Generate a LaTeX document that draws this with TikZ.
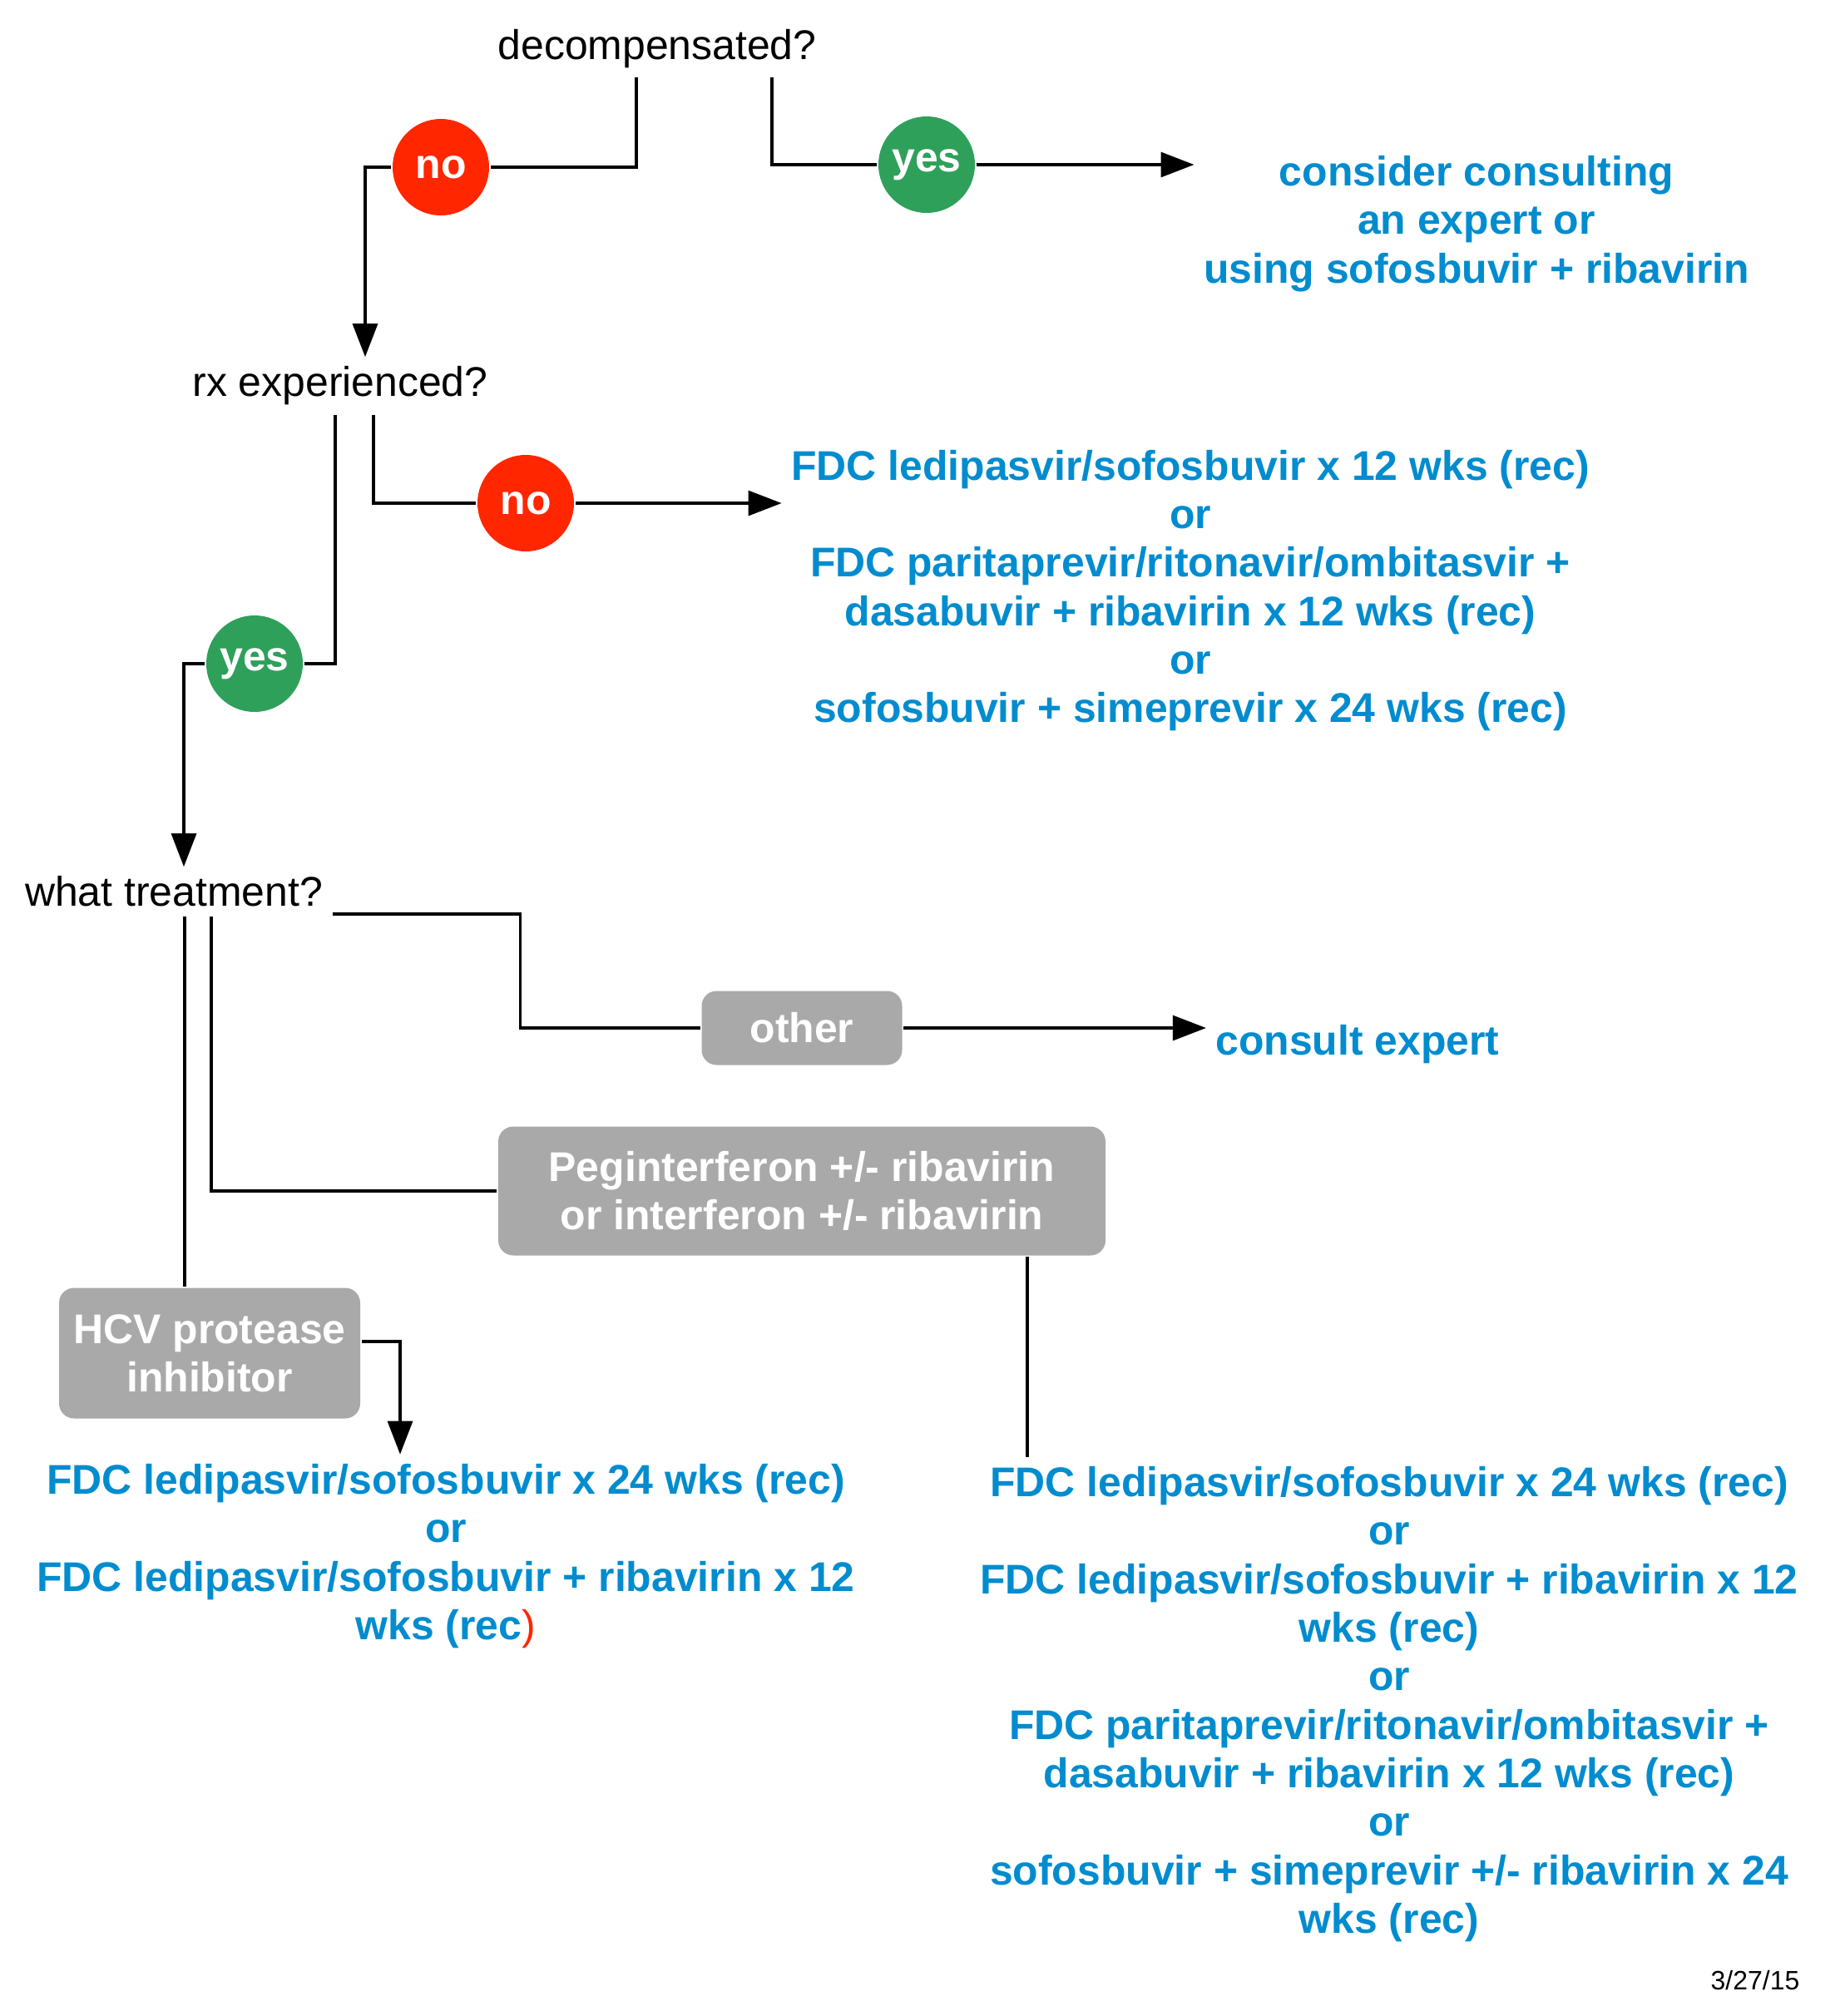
\documentclass[tikz,border=0pt]{standalone}
\usepackage{fontspec}
\setmainfont{Liberation Sans}
\usetikzlibrary{arrows.meta}

\definecolor{recblue}{RGB}{0,140,207}
\definecolor{nored}{RGB}{255,38,0}
\definecolor{yesgreen}{RGB}{46,160,90}
\definecolor{choicegray}{RGB}{169,169,169}

\begin{document}
\begin{tikzpicture}[>={Triangle[length=0.4cm,width=0.3cm]},line width=0.9pt,
  font=\fontsize{14.2}{16.6}\selectfont]
  \tikzstyle{question}=[inner sep=0.1cm]
  \tikzstyle{advice}=[inner sep=0.1cm,align=center,text=recblue,font=\fontsize{14.2}{16.6}\selectfont\bfseries]
  \tikzstyle{nodot}=[circle,fill=nored,text=white,minimum size=1.16cm,inner sep=0pt,font=\fontsize{14.2}{16.6}\selectfont\bfseries]
  \tikzstyle{yesdot}=[nodot,fill=yesgreen]
  \tikzstyle{choice}=[rounded corners=0.18cm,fill=choicegray,text=white,align=center,inner sep=0pt,font=\fontsize{14.2}{16.6}\selectfont\bfseries]

  \useasboundingbox (0,0) rectangle (22.06,-24.24);

  % questions
  \node[question] (dec) at (7.90,-0.585) {decompensated?};
  \node[question] (rx) at (4.09,-4.64) {rx experienced?};
  \node[question] (wt) at (2.09,-10.72) {what treatment?};

  % answers
  \node[nodot] (no1) at (5.30,-2.01) {no};
  \node[yesdot] (yes1) at (11.14,-1.98) {yes};
  \node[nodot] (no2) at (6.32,-6.05) {no};
  \node[yesdot] (yes2) at (3.06,-7.98) {yes};

  \node[choice,minimum width=2.41cm,minimum height=0.89cm] (oth) at (9.64,-12.36) {other};
  \node[choice,minimum width=7.30cm,minimum height=1.55cm] (peg) at (9.64,-14.32)
    {Peginterferon +/- ribavirin\\or interferon +/- ribavirin};
  \node[choice,minimum width=3.62cm,minimum height=1.57cm] (hcv) at (2.52,-16.27)
    {HCV protease\\inhibitor};

  % recommendations
  \node[advice] (cons) at (17.75,-2.69)
    {consider consulting\\an expert or\\using sofosbuvir + ribavirin};
  \node[advice] (fdc1) at (14.31,-7.10)
    {FDC ledipasvir/sofosbuvir x 12 wks (rec)\\or\\FDC paritaprevir/ritonavir/ombitasvir +\\
     dasabuvir + ribavirin x 12 wks (rec)\\or\\sofosbuvir + simeprevir x 24 wks (rec)};
  \node[advice] (cexp) at (16.32,-12.56) {consult expert};
  \node[advice] (fdc2) at (5.36,-18.71)
    {FDC ledipasvir/sofosbuvir x 24 wks (rec)\\or\\FDC ledipasvir/sofosbuvir + ribavirin x 12\\
     wks (rec{\mdseries\color{nored})}};
  \node[advice] (fdc3) at (16.70,-20.49)
    {FDC ledipasvir/sofosbuvir x 24 wks (rec)\\or\\FDC ledipasvir/sofosbuvir + ribavirin x 12\\
     wks (rec)\\or\\FDC paritaprevir/ritonavir/ombitasvir +\\dasabuvir + ribavirin x 12 wks (rec)\\
     or\\sofosbuvir + simeprevir +/- ribavirin x 24\\wks (rec)};

  \node[font=\fontsize{9.1}{11}\selectfont] (date) at (21.10,-23.81) {3/27/15};

  \coordinate (wtc) at ([xshift=0.13cm]wt.south);
  \coordinate (pegd) at ([xshift=2.71cm]peg.south);

  % connectors
  \draw ([xshift=-0.25cm]dec.south) |- (no1);
  \draw[->] (no1) -| ([xshift=0.30cm]rx.north);
  \draw ([xshift=1.38cm]dec.south) |- (yes1);
  \draw[->] (yes1) -- (yes1 -| cons.west);

  \draw ([xshift=0.40cm]rx.south) |- (no2);
  \draw[->] (no2) -- (no2 -| fdc1.west);
  \draw ([xshift=-0.06cm]rx.south) |- (yes2);
  \draw[->] (yes2) -| ([xshift=0.12cm]wt.north);

  \draw ([yshift=-0.27cm]wt.east) -- ++(2.26,0) |- (oth);
  \draw[->] (oth) -- (oth -| cexp.west);
  \draw ([xshift=0.45cm]wt.south) |- (peg);
  \draw (wtc) -- (wtc |- hcv.north);
  \draw[->] ([yshift=0.14cm]hcv.east) -| ([xshift=-0.55cm]fdc2.north);
  \draw (pegd) -- (pegd |- fdc3.north);

\end{tikzpicture}
\end{document}
